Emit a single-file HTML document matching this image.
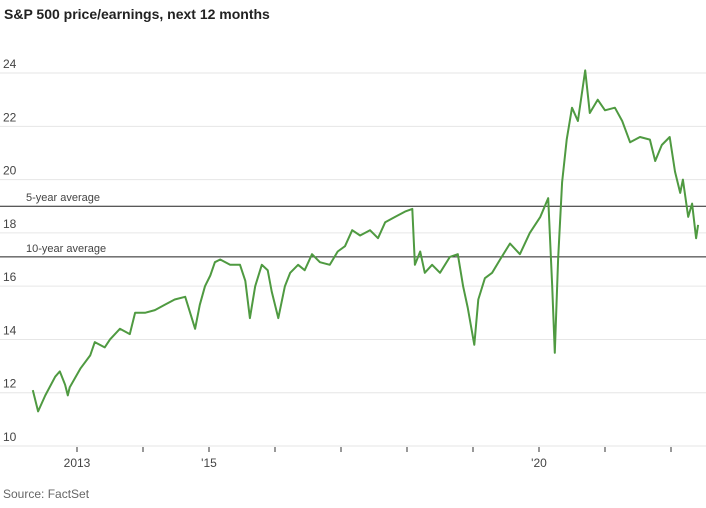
<!DOCTYPE html>
<html><head><meta charset="utf-8"><style>
body{margin:0;background:#fff;font-family:"Liberation Sans",sans-serif;}
svg text{font-family:"Liberation Sans",sans-serif;}
</style></head><body>
<svg width="706" height="503">
<text x="4" y="19" font-size="14" font-weight="bold" fill="#222">S&amp;P 500 price/earnings, next 12 months</text>
<g id="grid"></g><g id="xaxis"></g><g id="avg"></g><g id="series"></g>
<text x="3" y="498" font-size="12" fill="#666">Source: FactSet</text>
</svg>
<script>
const yTicks=[10,12,14,16,18,20,22,24];
const xTickYears=[2013,2014,2015,2016,2017,2018,2019,2020,2021,2022];
const xTickLabels=["2013","","'15","","","","","'20","",""];
const avgValues=[19.0,17.1];
const avgLabels=["5-year average","10-year average"];
const dates=[2012.33,2012.41,2012.52,2012.67,2012.74,2012.82,2012.86,2012.89,2013.05,2013.20,2013.27,2013.42,2013.50,2013.65,2013.80,2013.88,2014.03,2014.18,2014.33,2014.48,2014.64,2014.79,2014.86,2014.94,2015.02,2015.09,2015.17,2015.32,2015.47,2015.55,2015.62,2015.70,2015.80,2015.89,2015.95,2016.05,2016.15,2016.23,2016.35,2016.45,2016.56,2016.68,2016.83,2016.95,2017.06,2017.17,2017.29,2017.44,2017.56,2017.67,2017.82,2017.97,2018.08,2018.12,2018.20,2018.27,2018.38,2018.50,2018.65,2018.77,2018.85,2018.92,2019.02,2019.08,2019.18,2019.29,2019.41,2019.56,2019.71,2019.86,2020.02,2020.14,2020.20,2020.24,2020.29,2020.35,2020.42,2020.50,2020.59,2020.70,2020.77,2020.89,2021.00,2021.15,2021.26,2021.38,2021.53,2021.68,2021.76,2021.86,2021.98,2022.06,2022.14,2022.18,2022.26,2022.32,2022.38,2022.41];
const peValues=[12.1,11.3,11.9,12.6,12.8,12.3,11.9,12.2,12.9,13.4,13.9,13.7,14.0,14.4,14.2,15.0,15.0,15.1,15.3,15.5,15.6,14.4,15.3,16.0,16.4,16.9,17.0,16.8,16.8,16.2,14.8,16.0,16.8,16.6,15.8,14.8,16.0,16.5,16.8,16.6,17.2,16.9,16.8,17.3,17.5,18.1,17.9,18.1,17.8,18.4,18.6,18.8,18.9,16.8,17.3,16.5,16.8,16.5,17.1,17.2,16.0,15.2,13.8,15.5,16.3,16.5,17.0,17.6,17.2,18.0,18.6,19.3,16.0,13.5,17.0,19.9,21.5,22.7,22.2,24.1,22.5,23.0,22.6,22.7,22.2,21.4,21.6,21.5,20.7,21.3,21.6,20.3,19.5,20.0,18.6,19.1,17.8,18.3];
const NS="http://www.w3.org/2000/svg";
const xS=y=>77+(y-2013)*66;
const yS=v=>446-(v-10)*26.64;
function mk(tag,attrs,parent){const e=document.createElementNS(NS,tag);for(const k in attrs)e.setAttribute(k,attrs[k]);document.getElementById(parent).appendChild(e);return e;}
yTicks.forEach(t=>{
 const l=mk('line',{x1:0,x2:706,y1:yS(t),y2:yS(t),stroke:'#e6e6e6','stroke-width':1},'grid');
 
 
 const tx=mk('text',{x:3,y:yS(t)-5,'font-size':12,fill:'#444'},'grid');tx.textContent=t;
 
 
});
xTickYears.forEach((yr,i)=>{
 const l=mk('line',{x1:xS(yr),x2:xS(yr),y1:447,y2:452,stroke:'#333','stroke-width':1},'xaxis');
 
 
 if(xTickLabels[i]){const t=mk('text',{x:xS(yr),y:467,'font-size':12,fill:'#444','text-anchor':'middle'},'xaxis');t.textContent=xTickLabels[i];
 
 }
});
avgValues.forEach((v,i)=>{
 const l=mk('line',{x1:0,x2:706,y1:yS(v),y2:yS(v),stroke:'#222','stroke-width':1},'avg');
 
 
 const t=mk('text',{x:26,y:yS(v)-5,'font-size':11,fill:'#444'},'avg');t.textContent=avgLabels[i];
 
 
});
const d=dates.map((x,i)=>(i?'L':'M')+xS(x).toFixed(1)+','+yS(peValues[i]).toFixed(1)).join('');
const p=mk('path',{d:d,fill:'none',stroke:'#4f9a41','stroke-width':2,'stroke-linejoin':'round'},'series');


</script>
</body></html>
